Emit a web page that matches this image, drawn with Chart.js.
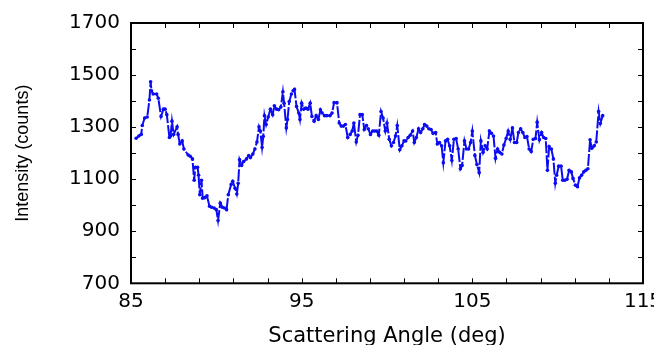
<!DOCTYPE html>
<html>
<head>
<meta charset="utf-8">
<script src="https://cdn.jsdelivr.net/npm/chart.js@4/dist/chart.umd.min.js"></script>
<style>
html,body{margin:0;padding:0;background:#fff;overflow:hidden;width:654px;height:345px;}
canvas{display:block;}
</style>
</head>
<body>
<canvas id="c" width="680" height="360" style="width:680px;height:360px"></canvas>
<script>
const angles = [85.3,85.46,85.6,85.66,85.8,85.95,86.08,86.15,86.2,86.3,86.5,86.6,86.76,86.9,87.0,87.1,87.25,87.32,87.4,87.5,
87.7,87.76,87.86,88.0,88.1,88.35,88.47,88.6,88.7,88.77,88.9,88.96,89.03,89.13,89.2,89.32,89.45,89.6,89.72,89.87,
90.0,90.1,90.23,90.35,90.47,90.6,90.7,90.87,90.96,91.1,91.2,91.28,91.36,91.48,91.6,91.77,91.9,92.0,92.14,92.26,
92.38,92.5,92.58,92.68,92.75,92.82,92.92,93.04,93.17,93.3,93.4,93.53,93.65,93.78,93.9,93.97,94.1,94.17,94.27,94.4,
94.5,94.58,94.7,94.83,94.9,95.0,95.12,95.24,95.37,95.5,95.6,95.73,95.85,95.98,96.1,96.2,96.34,96.47,96.66,96.78,
96.9,97.07,97.2,97.32,97.45,97.56,97.7,97.84,97.96,98.06,98.2,98.3,98.42,98.55,98.67,98.8,98.9,99.03,99.16,99.28,
99.4,99.52,99.65,99.77,99.9,100.0,100.13,100.26,100.38,100.5,100.6,100.75,100.87,101.0,101.1,101.24,101.36,101.5,101.6,101.72,
101.85,101.97,102.1,102.2,102.33,102.45,102.58,102.7,102.85,102.95,103.07,103.2,103.3,103.43,103.55,103.67,103.8,103.92,104.05,104.17,
104.3,104.4,104.54,104.66,104.78,104.9,105.0,105.15,105.27,105.4,105.5,105.63,105.75,105.87,106.0,106.12,106.24,106.36,106.48,106.6,
106.73,106.85,106.98,107.1,107.22,107.35,107.47,107.6,107.7,107.83,107.96,108.08,108.2,108.33,108.45,108.57,108.7,108.8,108.93,109.06,
109.18,109.3,109.4,109.5,109.63,109.75,109.86,109.94,110.06,110.2,110.3,110.42,110.55,110.67,110.8,110.9,111.04,111.16,111.28,111.4,
111.53,111.65,111.77,111.9,112.0,112.14,112.26,112.4,112.5,112.64];

const counts = [1257,1266,1272,1306,1335,1339,1404,1474,1440,1427,1427,1411,1341,1369,1369,1348,1260,1266,1323,1272,
1301,1272,1235,1247,1216,1193,1188,1178,1096,1146,1146,1115,1040,1096,1027,1029,1036,996,992,989,
983,941,1008,992,989,983,1040,1080,1092,1065,1043,1084,1175,1153,1168,1178,1191,1183,1197,1216,
1243,1301,1285,1222,1264,1344,1310,1339,1369,1348,1382,1369,1367,1377,1436,1392,1297,1329,1398,1427,
1440,1445,1379,1354,1329,1392,1369,1373,1369,1392,1341,1323,1344,1329,1367,1354,1344,1344,1344,1354,
1394,1394,1316,1304,1304,1310,1260,1272,1285,1316,1243,1269,1348,1348,1291,1306,1294,1272,1285,1285,
1285,1269,1360,1335,1285,1316,1253,1228,1241,1266,1306,1213,1228,1247,1247,1260,1269,1285,1241,1260,
1294,1279,1294,1310,1304,1294,1291,1276,1279,1235,1241,1228,1163,1247,1253,1228,1172,1253,1256,1216,
1140,1153,1247,1216,1216,1241,1285,1191,1156,1125,1247,1203,1228,1216,1285,1276,1266,1180,1216,1203,
1197,1231,1256,1285,1253,1297,1241,1241,1279,1294,1279,1260,1264,1216,1206,1253,1256,1319,1251,1279,
1260,1256,1134,1225,1216,1178,1084,1115,1150,1150,1096,1096,1100,1134,1128,1103,1077,1071,1105,1115,
1128,1134,1140,1251,1219,1228,1243,1360,1314,1344];

const xTitle = 'Scattering Angle (deg)';
const yTitle = 'Intensity (counts)';
const xLabelValues = [85, 95, 105, 115];
const yLabelValues = [700, 900, 1100, 1300, 1500, 1700];

const points = angles.map((a, i) => ({x: a, y: counts[i]}));

const frame = {
  id: 'frame',
  afterDraw(chart) {
    const {ctx, chartArea: a, scales} = chart;
    ctx.save();
    ctx.strokeStyle = '#000';
    ctx.lineWidth = 1;
    const L = 5;
    ctx.beginPath();
    scales.x.ticks.forEach(t => {
      const px = Math.round(scales.x.getPixelForValue(t.value)) + 0.5;
      ctx.moveTo(px, a.bottom); ctx.lineTo(px, a.bottom - L);
      ctx.moveTo(px, a.top); ctx.lineTo(px, a.top + L);
    });
    scales.y.ticks.forEach(t => {
      const py = Math.round(scales.y.getPixelForValue(t.value)) + 0.5;
      ctx.moveTo(a.left, py); ctx.lineTo(a.left + L, py);
      ctx.moveTo(a.right, py); ctx.lineTo(a.right - L, py);
    });
    ctx.stroke();
    ctx.lineWidth = 2;
    ctx.strokeRect(a.left, a.top, a.right - a.left, a.bottom - a.top);
    ctx.restore();
  }
};

new Chart(document.getElementById('c'), {
  type: 'scatter',
  data: {
    datasets: [{
      data: points,
      showLine: true,
      borderColor: '#0c0cf2',
      backgroundColor: '#0c0cf2',
      borderWidth: 2,
      borderDash: [12, 2],
      pointRadius: 1.8,
      pointBorderWidth: 0,
      tension: 0
    }]
  },
  options: {
    responsive: false,
    animation: false,
    events: [],
    layout: {padding: {top: 18, right: 37, left: 0, bottom: 0}},
    plugins: {legend: {display: false}, tooltip: {enabled: false}},
    scales: {
      x: {
        type: 'linear',
        min: 85, max: 115,
        afterFit(s) { s.height = 76.7; },
        ticks: {
          stepSize: 2,
          autoSkip: false,
          maxRotation: 0,
          padding: 6,
          color: '#000',
          font: {family: 'DejaVu Sans', size: 20},
          callback: v => xLabelValues.includes(v) ? String(v) : ''
        },
        grid: {drawOnChartArea: false, drawTicks: false},
        border: {display: false},
        title: {display: true, text: xTitle, color: '#000',
                font: {family: 'DejaVu Sans', size: 21}, padding: {top: 0, bottom: 11}}
      },
      y: {
        type: 'linear',
        min: 700, max: 1700,
        afterFit(s) { s.width = 131; },
        ticks: {
          stepSize: 100,
          autoSkip: false,
          padding: 11,
          color: '#000',
          font: {family: 'DejaVu Sans', size: 20},
          callback: v => yLabelValues.includes(v) ? String(v) : ''
        },
        grid: {drawOnChartArea: false, drawTicks: false},
        border: {display: false},
        title: {display: true, text: yTitle, color: '#000',
                font: {family: 'Liberation Sans', size: 18}, padding: {top: 12, bottom: 0}}
      }
    }
  },
  plugins: [frame]
});
</script>
</body>
</html>
